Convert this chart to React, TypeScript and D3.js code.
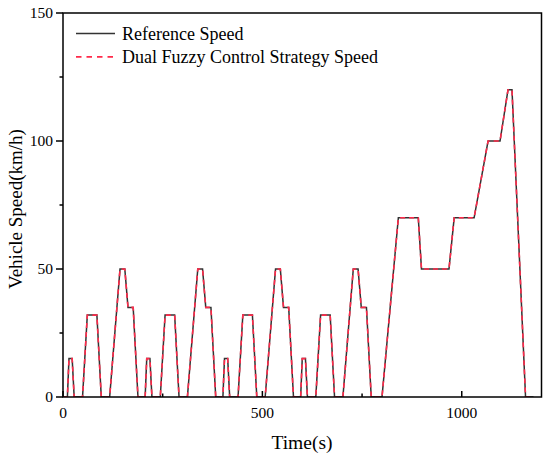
import * as d3 from 'd3';

// NEDC drive cycle: time (s) and speed (km/h)
const timeS = [
  0, 11, 15, 23, 28, 49, 61, 85, 96, 117, 143, 155, 163, 176, 188,
  195, 206, 210, 218, 223, 244, 256, 280, 291, 312, 338, 350, 358, 371, 383,
  390, 401, 405, 413, 418, 439, 451, 475, 486, 507, 533, 545, 553, 566, 578,
  585, 596, 600, 608, 613, 634, 646, 670, 681, 702, 728, 740, 748, 761, 773,
  780, 800, 841, 891, 899, 968, 981, 1031, 1066, 1096, 1116, 1126, 1160, 1180,
];
const referenceSpeed = [
  0, 0, 15, 15, 0, 0, 32, 32, 0, 0, 50, 50, 35, 35, 0,
  0, 0, 15, 15, 0, 0, 32, 32, 0, 0, 50, 50, 35, 35, 0,
  0, 0, 15, 15, 0, 0, 32, 32, 0, 0, 50, 50, 35, 35, 0,
  0, 0, 15, 15, 0, 0, 32, 32, 0, 0, 50, 50, 35, 35, 0,
  0, 0, 70, 70, 50, 50, 70, 70, 100, 100, 120, 120, 0, 0,
];
// the controller tracks the reference so closely the two curves coincide
const fuzzySpeed = [...referenceSpeed];

const xTicks = [0, 500, 1000];
const xMinorTicks = [250, 750];
const yTicks = [0, 50, 100, 150];
const yMinorTicks = [25, 75, 125];

const FONT = '"Liberation Serif", "Times New Roman", serif';
const RED = '#ff2a4a';
const BLACK = '#333333';

const App = () => {
  const width = 550;
  const height = 460;
  const margin = { top: 13, right: 8.5, bottom: 63, left: 63 };
  const innerW = width - margin.left - margin.right;
  const innerH = height - margin.top - margin.bottom;

  const x = d3.scaleLinear().domain([0, 1200]).range([0, innerW]);
  const y = d3.scaleLinear().domain([0, 150]).range([innerH, 0]);

  const line = d3
    .line<number>()
    .x((_, i) => x(timeS[i]))
    .y((d) => y(d));

  return (
    <svg
      width={width}
      height={height}
      style={{ position: 'absolute', left: 0, top: 0, background: '#fff', fontFamily: FONT }}
    >
      <g transform={`translate(${margin.left},${margin.top})`}>
        <clipPath id="plot-clip">
          <rect x={0} y={0} width={innerW} height={innerH} />
        </clipPath>

        {/* series */}
        <g clipPath="url(#plot-clip)">
          <path d={line(referenceSpeed) || ''} fill="none" stroke={BLACK} strokeWidth={1.5} />
          <path
            d={line(fuzzySpeed) || ''}
            fill="none"
            stroke={RED}
            strokeWidth={1.6}
            strokeDasharray="5 4"
          />
        </g>

        {/* frame */}
        <rect x={0} y={0} width={innerW} height={innerH} fill="none" stroke="#000" strokeWidth={1.5} />

        {/* x axis: ticks inside */}
        {xTicks.map((t) => (
          <g key={`x${t}`} transform={`translate(${x(t)},${innerH})`}>
            <line y1={0} y2={-6} stroke="#000" strokeWidth={1.5} />
            <text y={21} textAnchor="middle" fontSize={15.5}>
              {t}
            </text>
          </g>
        ))}
        {xMinorTicks.map((t) => (
          <line key={`xm${t}`} x1={x(t)} x2={x(t)} y1={innerH} y2={innerH - 3.5} stroke="#000" strokeWidth={1.5} />
        ))}

        {/* y axis: ticks outside */}
        {yTicks.map((t) => (
          <g key={`y${t}`} transform={`translate(0,${y(t)})`}>
            <line x1={0} x2={-7} stroke="#000" strokeWidth={1.5} />
            <text x={-10} dy="0.34em" textAnchor="end" fontSize={15.5}>
              {t}
            </text>
          </g>
        ))}
        {yMinorTicks.map((t) => (
          <line key={`ym${t}`} x1={0} x2={-3.5} y1={y(t)} y2={y(t)} stroke="#000" strokeWidth={1.5} />
        ))}

        {/* legend */}
        <g transform="translate(13,20.5)">
          <line x1={0} x2={39} y1={0} y2={0} stroke={BLACK} strokeWidth={1.5} />
          <text x={46} y={6.5} fontSize={18}>
            Reference Speed
          </text>
          <line x1={0} x2={39} y1={23.4} y2={23.4} stroke={RED} strokeWidth={1.6} strokeDasharray="5.5 5" />
          <text x={46} y={29.9} fontSize={18}>
            Dual Fuzzy Control Strategy Speed
          </text>
        </g>
      </g>

      {/* axis titles */}
      <text x={302} y={449} textAnchor="middle" fontSize={19.5}>
        Time(s)
      </text>
      <text transform="translate(22,209) rotate(-90)" textAnchor="middle" fontSize={19}>
        Vehicle Speed(km/h)
      </text>
    </svg>
  );
};

export default App;
